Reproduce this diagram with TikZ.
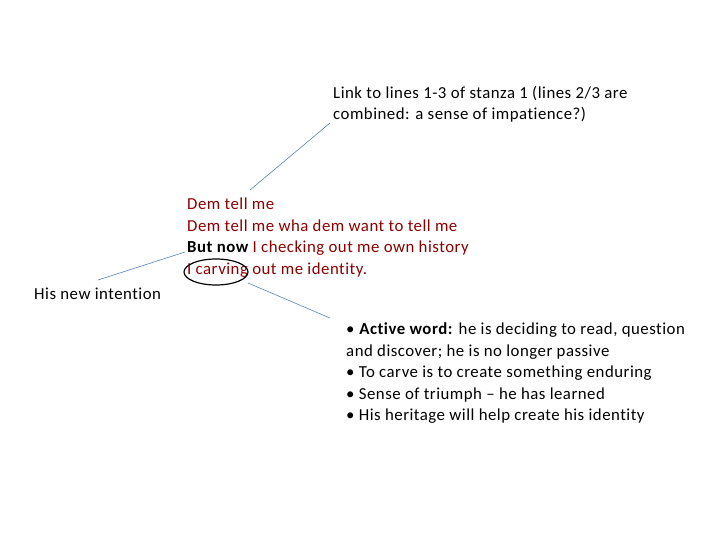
\documentclass[tikz,border=0pt]{standalone}
\usepackage{fontspec}
\setmainfont[Ligatures=NoCommon,LetterSpace=3]{Carlito}
\definecolor{lnk}{RGB}{90,130,180}
\begin{document}
\begin{tikzpicture}[x=1pt,y=-1pt,
  txt/.style={anchor=north west,align=left,inner sep=0pt,font=\fontsize{16.8}{21.5}\selectfont},
  con/.style={draw=lnk,line width=0.6pt}]
\useasboundingbox (0,0) rectangle (720,540);
\node[txt] (link) at (333,86) {Link to lines 1-3 of stanza 1 (lines 2/3 are\\combined: a sense of impatience?)};
\node[txt,text=red!55!black] (poem) at (187,198) {Dem tell me\\Dem tell me wha dem want to tell me\\{\color{black}\bfseries But now} I checking out me own history\\I carving out me identity.};
\node[txt] (int) at (34,288) {His new intention};
\node[txt] (bul) at (346,323) {• \textbf{Active word:} he is deciding to read, question\\and discover; he is no longer passive\\• To carve is to create something enduring\\• Sense of triumph – he has learned\\• His heritage will help create his identity};
\draw[line width=1.2pt] (216,272) ellipse (32 and 13);
\coordinate (a1) at (330,123); \coordinate (a2) at (250,190);
\coordinate (b1) at (98,280); \coordinate (b2) at (185,252);
\coordinate (c1) at (248,283); \coordinate (c2) at (330,318);
\draw[con] (a1) -- (a2);
\draw[con] (b1) -- (b2);
\draw[con] (c1) -- (c2);
\end{tikzpicture}
\end{document}
